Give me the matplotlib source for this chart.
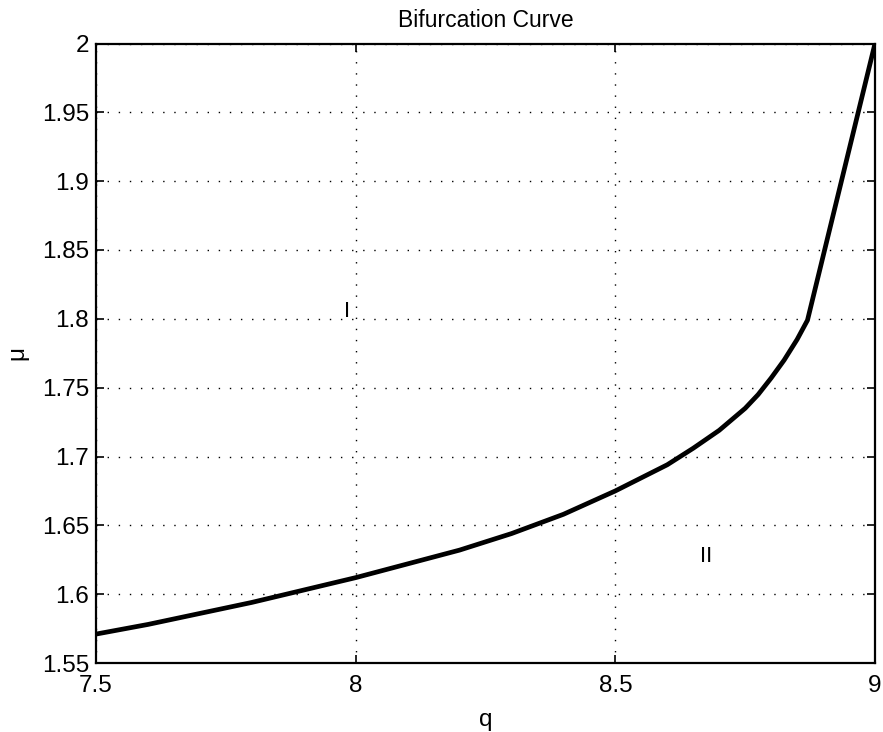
import matplotlib
matplotlib.use("Agg")
import matplotlib.pyplot as plt

q = [7.5, 7.6, 7.7, 7.8, 7.9, 8.0, 8.1, 8.2, 8.3, 8.4, 8.5, 8.6, 8.65, 8.7, 8.75, 8.775,
     8.8, 8.825, 8.85, 8.87, 9.0]
mu = [1.571, 1.578, 1.586, 1.594, 1.603, 1.612, 1.622, 1.632, 1.644, 1.658, 1.675, 1.694,
      1.706, 1.719, 1.735, 1.745, 1.757, 1.770, 1.785, 1.799, 2.0]
xticks = [7.5, 8, 8.5, 9]
xticklabels = ["7.5", "8", "8.5", "9"]
yticks = [1.55, 1.6, 1.65, 1.7, 1.75, 1.8, 1.85, 1.9, 1.95, 2.0]
yticklabels = ["1.55", "1.6", "1.65", "1.7", "1.75", "1.8", "1.85", "1.9", "1.95", "2"]

plt.rcParams['font.family'] = ['Liberation Sans', 'DejaVu Sans']
fig = plt.figure(figsize=(8.83, 7.32), dpi=100)
ax = fig.add_axes([96/883, 1 - 663/732, (875-96)/883, (663-43.5)/732])
ax.plot(q, mu, color='black', linewidth=3.4, solid_joinstyle='round')
ax.set_xlim(7.5, 9)
ax.set_ylim(1.55, 2.0)
ax.set_xticks(xticks)
ax.set_xticklabels(xticklabels)
ax.set_yticks(yticks)
ax.set_yticklabels(yticklabels)
ax.tick_params(direction='in', length=6, width=1.2, labelsize=17.5, top=True, right=True)
ax.tick_params(axis='x', pad=9)
ax.tick_params(axis='y', pad=5)
ax.grid(True, color='black', linestyle=(0, (1, 7)), linewidth=1.0)
for s in ax.spines.values():
    s.set_linewidth(1.6)
ax.text(7.983, 1.805, "I", fontsize=16, ha='center', va='center')
ax.text(8.675, 1.627, "II", fontsize=16, ha='center', va='center')
ax.set_title("Bifurcation Curve", fontsize=16.5, pad=12)
ax.set_xlabel("q", fontsize=17.5, labelpad=8)
ax.set_ylabel("μ", fontsize=17.5, labelpad=10)
fig.savefig("out.png", dpi=100)
